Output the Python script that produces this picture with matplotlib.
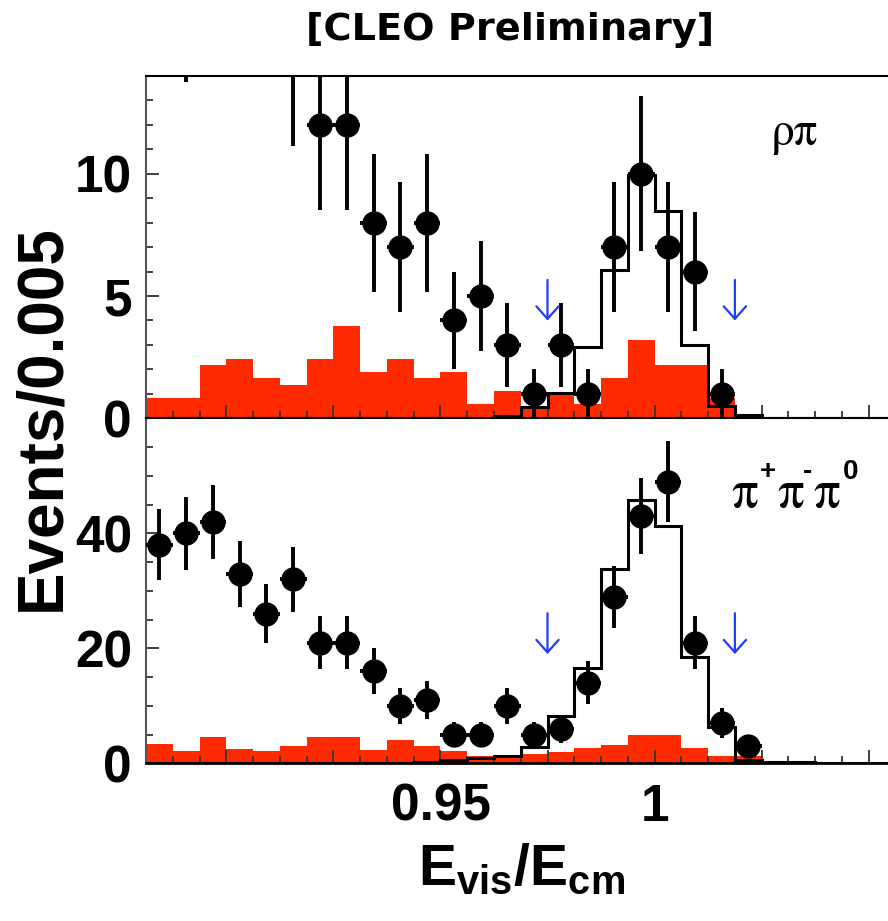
import numpy as np
import matplotlib
matplotlib.use("Agg")
import matplotlib.pyplot as plt
from matplotlib.ticker import MultipleLocator, FuncFormatter

plt.rcParams['font.family'] = ['Liberation Sans', 'DejaVu Sans']
plt.rcParams['font.weight'] = 'bold'
plt.rcParams['mathtext.fontset'] = 'custom'
plt.rcParams['mathtext.rm'] = 'Liberation Sans:bold'
plt.rcParams['mathtext.bf'] = 'Liberation Sans:bold'
plt.rcParams['mathtext.it'] = 'Liberation Sans:bold'

# ---- data ----
bin_lo = 0.88125
bin_width = 0.00625
n_bins = 28

top_data = [22, 18, 24, 20, 19, 15, 12, 12, 8, 7, 8, 4, 5, 3, 1, 3, 1, 7, 10, 7, 6, 1,
            0, 0, 0, 0, 0, 0]
top_bkg = [0.85, 0.85, 2.17, 2.44, 1.63, 1.38, 2.44, 3.77, 1.90, 2.44, 1.63, 1.90, 0.58,
           1.11, 0.42, 1.02, 0.6, 1.63, 3.22, 2.17, 2.17, 0.84, 0, 0, 0, 0, 0, 0]
top_sig = [0, 0, 0, 0, 0, 0, 0, 0, 0, 0, 0, 0, 0, 0.1, 0.45, 1.02, 2.9, 6.06, 9.96, 8.47,
           2.98, 0.5, 0.15, 0, 0, 0, 0, 0]

bot_data = [38, 40, 42, 33, 26, 32, 21, 21, 16, 10, 11, 5, 5, 10, 5, 6, 14, 29, 43, 49,
            21, 7, 3, 0, 0, 0, 0, 0]
bot_bkg = [3.36, 2.14, 4.6, 2.49, 2.14, 3.07, 4.5, 4.5, 2.3, 4.05, 3.07, 2.14, 1.2, 1.3,
           1.6, 2.0, 2.6, 3.2, 5.0, 5.0, 2.6, 1.3, 1.2, 0, 0, 0, 0, 0]
bot_sig = [0, 0, 0, 0, 0, 0, 0, 0, 0, 0, 0.2, 0.5, 1.0, 1.3, 2.9, 8.2, 16.5, 33.8, 45.8,
           41.2, 18.5, 6.4, 0.5, 0.3, 0.3, 0, 0, 0]

cut_x = [0.975, 1.01875]
top_arrow_y = (5.66, 4.0)
bot_arrow_y = (26.1, 19.0)

x_min, x_max = 0.88125, 1.0545
tick_labels = {0.95: "0.95", 1.0: "1"}

RED = '#ff2a00'
BLUE = '#1f3cff'

edges = bin_lo + bin_width * np.arange(n_bins + 1)
centers = 0.5 * (edges[:-1] + edges[1:])

fig = plt.figure(figsize=(8.88, 9.21), dpi=100)
W, H = 888.0, 921.0
ax_top = fig.add_axes([146 / W, 1 - 418.3 / H, (888 - 146) / W, (418.3 - 76) / H])
ax_bot = fig.add_axes([146 / W, 1 - 763.3 / H, (888 - 146) / W, (763.3 - 418.3) / H])


def draw_panel(ax, data, bkg, sig, ylim, ymaj, ymin, arrow_y):
    ax.stairs(bkg, edges, fill=True, color=RED, linewidth=0, zorder=1)
    ax.stairs(sig, edges, color='black', linewidth=2.2, baseline=None, zorder=2)
    d = np.array(data, dtype=float)
    m = d > 0
    ax.errorbar(centers[m], d[m], yerr=np.sqrt(d[m]), xerr=bin_width / 2, fmt='o',
                color='black', ms=16.5, elinewidth=2.8, capsize=0, zorder=3)
    for xc in cut_x:
        ax.annotate('', xy=(xc, arrow_y[1]), xytext=(xc, arrow_y[0]),
                    arrowprops=dict(arrowstyle='->,head_length=0.45,head_width=0.4',
                                    color=BLUE, lw=1.6, shrinkA=0, shrinkB=0,
                                    mutation_scale=20), zorder=4)
    ax.set_xlim(x_min, x_max)
    ax.set_ylim(*ylim)
    ax.xaxis.set_major_locator(MultipleLocator(0.025))
    ax.xaxis.set_minor_locator(MultipleLocator(bin_width))
    ax.yaxis.set_major_locator(MultipleLocator(ymaj))
    ax.yaxis.set_minor_locator(MultipleLocator(ymin))
    ax.tick_params(axis='both', which='both', direction='in', top=False, right=False,
                   width=1.3, color='#333333')
    ax.tick_params(axis='both', which='major', length=9.5, labelsize=37)
    ax.tick_params(axis='both', which='minor', length=5)
    ax.tick_params(axis='y', pad=10)
    ax.tick_params(axis='x', pad=14)
    ax.spines['right'].set_visible(False)
    ax.spines['left'].set_color('#555555')
    for s in ['left', 'top', 'bottom']:
        ax.spines[s].set_linewidth(1.5)
    ax.spines['bottom'].set_linewidth(2.0)


draw_panel(ax_top, top_data, top_bkg, top_sig, (0, 14), 5, 1, top_arrow_y)
draw_panel(ax_bot, bot_data, bot_bkg, bot_sig, (0, 60), 20, 5, bot_arrow_y)

ax_top.set_yticks([0, 5, 10])
ax_bot.set_yticks([0, 20, 40])
ax_top.tick_params(axis='x', labelbottom=False)


def fmt(v, pos):
    for k, lab in tick_labels.items():
        if abs(v - k) < 1e-6:
            return lab
    return ''


ax_bot.xaxis.set_major_formatter(FuncFormatter(fmt))
for lab in ax_bot.get_xticklabels() + ax_bot.get_yticklabels() + ax_top.get_yticklabels():
    lab.set_fontweight('bold')

fig.text(42 / W, 1 - 417.5 / H, 'Events/0.005', rotation=90, ha='center', va='center',
         fontsize=46, fontweight='bold')
fig.text(522 / W, 1 - 885 / H, r'$\mathbf{E}_{\mathbf{vis}}/\mathbf{E}_{\mathbf{cm}}$',
         ha='center', va='baseline', fontsize=41)
fig.text(510 / W, 1 - 30 / H, '[CLEO Preliminary]', ha='center', va='center',
         fontsize=27.5, fontweight='bold', family='DejaVu Sans')
fig.text(770 / W, 1 - 145 / H, 'ρπ', ha='left', va='baseline', fontsize=34,
         family='STIXGeneral', fontweight='normal', color='black')

# pi+ pi- pi0 label built from pieces
for px in (731, 777, 813):
    fig.text(px / W, 1 - 507 / H, 'π', ha='left', va='baseline', fontsize=38,
             family='STIXGeneral', fontweight='normal', color='black')
for px, s in ((768, '+'), (807, '-'), (851, '0')):
    fig.text(px / W, 1 - 479 / H, s, ha='center', va='baseline', fontsize=20,
             fontweight='bold', color='black')

fig.savefig('out.png', dpi=100)
